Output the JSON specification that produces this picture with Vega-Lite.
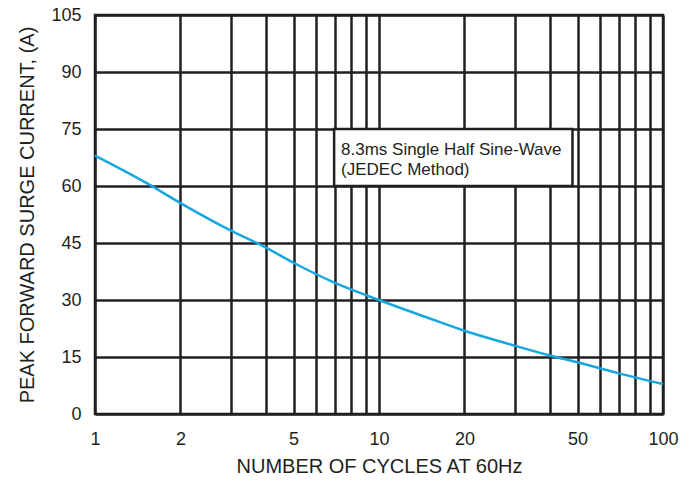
{
  "$schema": "https://vega.github.io/schema/vega-lite/v6.json",
  "width": 568,
  "height": 399,
  "autosize": "none",
  "padding": {"left": 95, "top": 15, "right": 35, "bottom": 75},
  "background": "white",
  "config": {
    "view": {"stroke": "#231f20", "strokeWidth": 2.5},
    "font": "Liberation Sans",
    "axis": {
      "labelFont": "Liberation Sans",
      "titleFont": "Liberation Sans",
      "labelFontSize": 18,
      "titleFontSize": 20,
      "labelColor": "#231f20",
      "titleColor": "#231f20",
      "titleFontWeight": "normal",
      "gridColor": "#231f20",
      "gridWidth": 2.5,
      "gridOpacity": 1,
      "domain": false,
      "ticks": false,
      "labelFlush": false
    }
  },
  "datasets": {
    "curve": [
      {"cycles": 1, "current": 68},
      {"cycles": 1.5, "current": 61},
      {"cycles": 2, "current": 55.5},
      {"cycles": 3, "current": 48.3},
      {"cycles": 4, "current": 43.8},
      {"cycles": 5, "current": 39.8},
      {"cycles": 7, "current": 34.5},
      {"cycles": 10, "current": 30},
      {"cycles": 15, "current": 25.2},
      {"cycles": 20, "current": 21.9},
      {"cycles": 30, "current": 18},
      {"cycles": 40, "current": 15.4},
      {"cycles": 50, "current": 13.6},
      {"cycles": 70, "current": 10.7},
      {"cycles": 100, "current": 7.9}
    ],
    "box": [{"x1": 6.95, "x2": 48, "y1": 60, "y2": 75}],
    "notes": [
      {"x": 7.35, "y": 69.6, "label": "8.3ms Single Half Sine-Wave"},
      {"x": 7.35, "y": 64.3, "label": "(JEDEC Method)"}
    ]
  },
  "layer": [
    {
      "data": {"name": "box"},
      "mark": {"type": "rect", "fill": "white", "stroke": "#231f20", "strokeWidth": 2.5},
      "encoding": {
        "x": {
          "field": "x1", "type": "quantitative",
          "scale": {"type": "log", "domain": [1, 100], "nice": false},
          "axis": {
            "title": "NUMBER OF CYCLES AT 60Hz",
            "values": [1, 2, 3, 4, 5, 6, 7, 8, 9, 10, 20, 30, 40, 50, 60, 70, 80, 90, 100],
            "labelExpr": "indexof([1,2,5,10,20,50,100], datum.value) >= 0 ? datum.label : ''",
            "labelPadding": 16,
            "titlePadding": 8,
            "grid": true
          }
        },
        "x2": {"field": "x2"},
        "y": {
          "field": "y1", "type": "quantitative",
          "scale": {"domain": [0, 105], "nice": false},
          "axis": {
            "title": "PEAK FORWARD SURGE CURRENT, (A)",
            "values": [0, 15, 30, 45, 60, 75, 90, 105],
            "labelPadding": 14,
            "titlePadding": 13,
            "grid": true
          }
        },
        "y2": {"field": "y2"}
      }
    },
    {
      "data": {"name": "curve"},
      "mark": {"type": "line", "color": "#16a7e0", "strokeWidth": 2.5, "interpolate": "monotone"},
      "encoding": {
        "x": {"field": "cycles", "type": "quantitative"},
        "y": {"field": "current", "type": "quantitative"}
      }
    },
    {
      "data": {"name": "notes"},
      "mark": {"type": "text", "align": "left", "baseline": "middle", "fontSize": 17, "color": "#231f20", "font": "Liberation Sans"},
      "encoding": {
        "x": {"field": "x", "type": "quantitative"},
        "y": {"field": "y", "type": "quantitative"},
        "text": {"field": "label"}
      }
    }
  ]
}
